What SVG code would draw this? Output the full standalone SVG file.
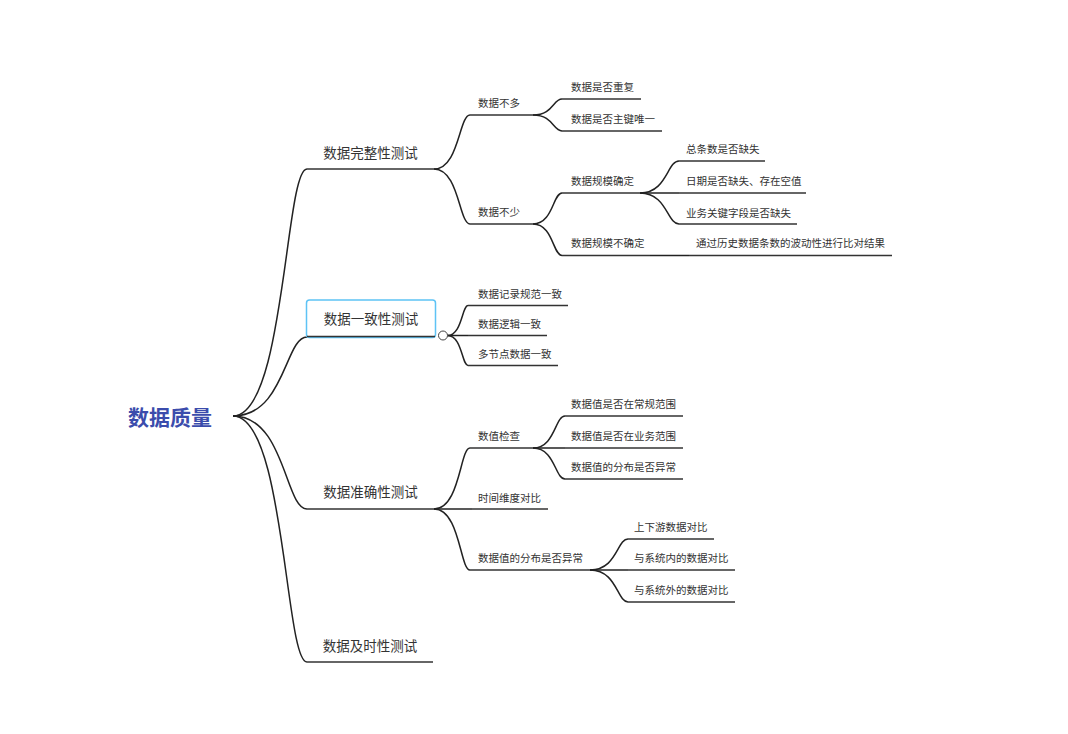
<svg xmlns="http://www.w3.org/2000/svg" width="1068" height="734" viewBox="0 0 1068 734">
<style>
text{font-family:"Noto Sans CJK SC","Noto Sans",sans-serif;fill:#333;dominant-baseline:central}
.root{font-size:21px;font-weight:bold;fill:#3b4cac;text-anchor:middle}
.l1{font-size:13.5px;text-anchor:middle}
.s{font-size:10.5px}
.ul{stroke:#333;stroke-width:1.5;fill:none}
.c{stroke:#222;stroke-width:1.5;fill:none}
</style>
<rect width="1068" height="734" fill="#fff"/>
<g id="connectors">
<path class="c" d="M233,416 C285,416 285,169 307,169"/>
<path class="c" d="M233,416 C285,416 285,337 307,337"/>
<path class="c" d="M233,416 C285,416 285,509 307,509"/>
<path class="c" d="M233,416 C285,416 285,662 307,662"/>
<path class="c" d="M434,169 C459,169 459,115 470,115"/>
<path class="c" d="M434,169 C459,169 459,224 470,224"/>
<path class="c" d="M533,115 C553,115 553,99 562,99"/>
<path class="c" d="M533,115 C553,115 553,131 562,131"/>
<path class="c" d="M533,224 C553,224 553,193 562,193"/>
<path class="c" d="M533,224 C553,224 553,255.5 562,255.5"/>
<path class="c" d="M640,193 C667,193 667,161 679,161"/>
<path class="c" d="M640,193 L679,193"/>
<path class="c" d="M640,193 C667,193 667,224 679,224"/>
<path class="c" d="M650,255.5 L689,255.5"/>
<path class="c" d="M447.5,335.5 C462,335.5 462,305.5 468,305.5"/>
<path class="c" d="M447.5,335.5 L468,335.5"/>
<path class="c" d="M447.5,335.5 C462,335.5 462,365.5 468,365.5"/>
<path class="c" d="M434,509 C460,509 460,448 470,448"/>
<path class="c" d="M434,509 L472,509"/>
<path class="c" d="M434,509 C460,509 460,570 470,570"/>
<path class="c" d="M533,448 C555,448 555,416 565,416"/>
<path class="c" d="M533,448 L565,448"/>
<path class="c" d="M533,448 C555,448 555,479 565,479"/>
<path class="c" d="M590,570 C617,570 617,539 628,539"/>
<path class="c" d="M590,570 L628,570"/>
<path class="c" d="M590,570 C617,570 617,602 628,602"/>
</g>
<g id="root"><text class="root" x="170" y="416">数据质量</text></g>
<g id="n-wanzheng"><line class="ul" x1="307" y1="169" x2="434" y2="169"/><text class="l1" x="370.5" y="152">数据完整性测试</text></g>
<g id="n-yizhi"><rect x="306.5" y="300" width="129" height="37.5" rx="3" fill="#fff" stroke="#5ec3f5" stroke-width="1.5"/><line class="ul" x1="307" y1="336.5" x2="435" y2="336.5"/><text class="l1" x="371" y="318">数据一致性测试</text><circle cx="443" cy="335.5" r="4.5" fill="#fff" stroke="#444" stroke-width="1"/></g>
<g id="n-zhunque"><line class="ul" x1="307" y1="509" x2="434" y2="509"/><text class="l1" x="370.5" y="491">数据准确性测试</text></g>
<g id="n-jishi"><line class="ul" x1="307" y1="662" x2="433" y2="662"/><text class="l1" x="370" y="645">数据及时性测试</text></g>
<g id="n-buduo"><line class="ul" x1="470" y1="115" x2="533" y2="115"/><text class="s" x="478" y="102">数据不多</text></g>
<g id="n-bushao"><line class="ul" x1="470" y1="224" x2="533" y2="224"/><text class="s" x="478" y="211">数据不少</text></g>
<g id="n-chongfu"><line class="ul" x1="562" y1="99" x2="641" y2="99"/><text class="s" x="571" y="86">数据是否重复</text></g>
<g id="n-zhujian"><line class="ul" x1="562" y1="131" x2="662" y2="131"/><text class="s" x="571" y="118">数据是否主键唯一</text></g>
<g id="n-queding"><line class="ul" x1="562" y1="193" x2="640" y2="193"/><text class="s" x="571" y="180">数据规模确定</text></g>
<g id="n-buqueding"><line class="ul" x1="562" y1="255.5" x2="650" y2="255.5"/><text class="s" x="571" y="242">数据规模不确定</text></g>
<g id="n-zongtiao"><line class="ul" x1="679" y1="161" x2="765" y2="161"/><text class="s" x="686" y="148">总条数是否缺失</text></g>
<g id="n-riqi"><line class="ul" x1="679" y1="193" x2="806" y2="193"/><text class="s" x="686" y="180">日期是否缺失、存在空值</text></g>
<g id="n-yewu"><line class="ul" x1="679" y1="224" x2="797" y2="224"/><text class="s" x="686" y="212">业务关键字段是否缺失</text></g>
<g id="n-lishi"><line class="ul" x1="689" y1="255.5" x2="892" y2="255.5"/><text class="s" x="696" y="242">通过历史数据条数的波动性进行比对结果</text></g>
<g id="n-jilu"><line class="ul" x1="468" y1="305.5" x2="568" y2="305.5"/><text class="s" x="478" y="293">数据记录规范一致</text></g>
<g id="n-luoji"><line class="ul" x1="468" y1="335.5" x2="547" y2="335.5"/><text class="s" x="478" y="323">数据逻辑一致</text></g>
<g id="n-duojiedian"><line class="ul" x1="468" y1="365.5" x2="558" y2="365.5"/><text class="s" x="478" y="353">多节点数据一致</text></g>
<g id="n-shuzhi"><line class="ul" x1="470" y1="448" x2="533" y2="448"/><text class="s" x="478" y="435">数值检查</text></g>
<g id="n-shijian"><line class="ul" x1="472" y1="509" x2="548" y2="509"/><text class="s" x="478" y="497">时间维度对比</text></g>
<g id="n-fenbu"><line class="ul" x1="470" y1="570" x2="590" y2="570"/><text class="s" x="478" y="557">数据值的分布是否异常</text></g>
<g id="n-changgui"><line class="ul" x1="565" y1="416" x2="683" y2="416"/><text class="s" x="571" y="403">数据值是否在常规范围</text></g>
<g id="n-yewufanwei"><line class="ul" x1="565" y1="448" x2="683" y2="448"/><text class="s" x="571" y="435">数据值是否在业务范围</text></g>
<g id="n-fenbu2"><line class="ul" x1="565" y1="479" x2="683" y2="479"/><text class="s" x="571" y="466">数据值的分布是否异常</text></g>
<g id="n-shangxia"><line class="ul" x1="628" y1="539" x2="714" y2="539"/><text class="s" x="634" y="526">上下游数据对比</text></g>
<g id="n-xitongnei"><line class="ul" x1="628" y1="570" x2="735" y2="570"/><text class="s" x="634" y="557">与系统内的数据对比</text></g>
<g id="n-xitongwai"><line class="ul" x1="628" y1="602" x2="735" y2="602"/><text class="s" x="634" y="589">与系统外的数据对比</text></g>
</svg>
